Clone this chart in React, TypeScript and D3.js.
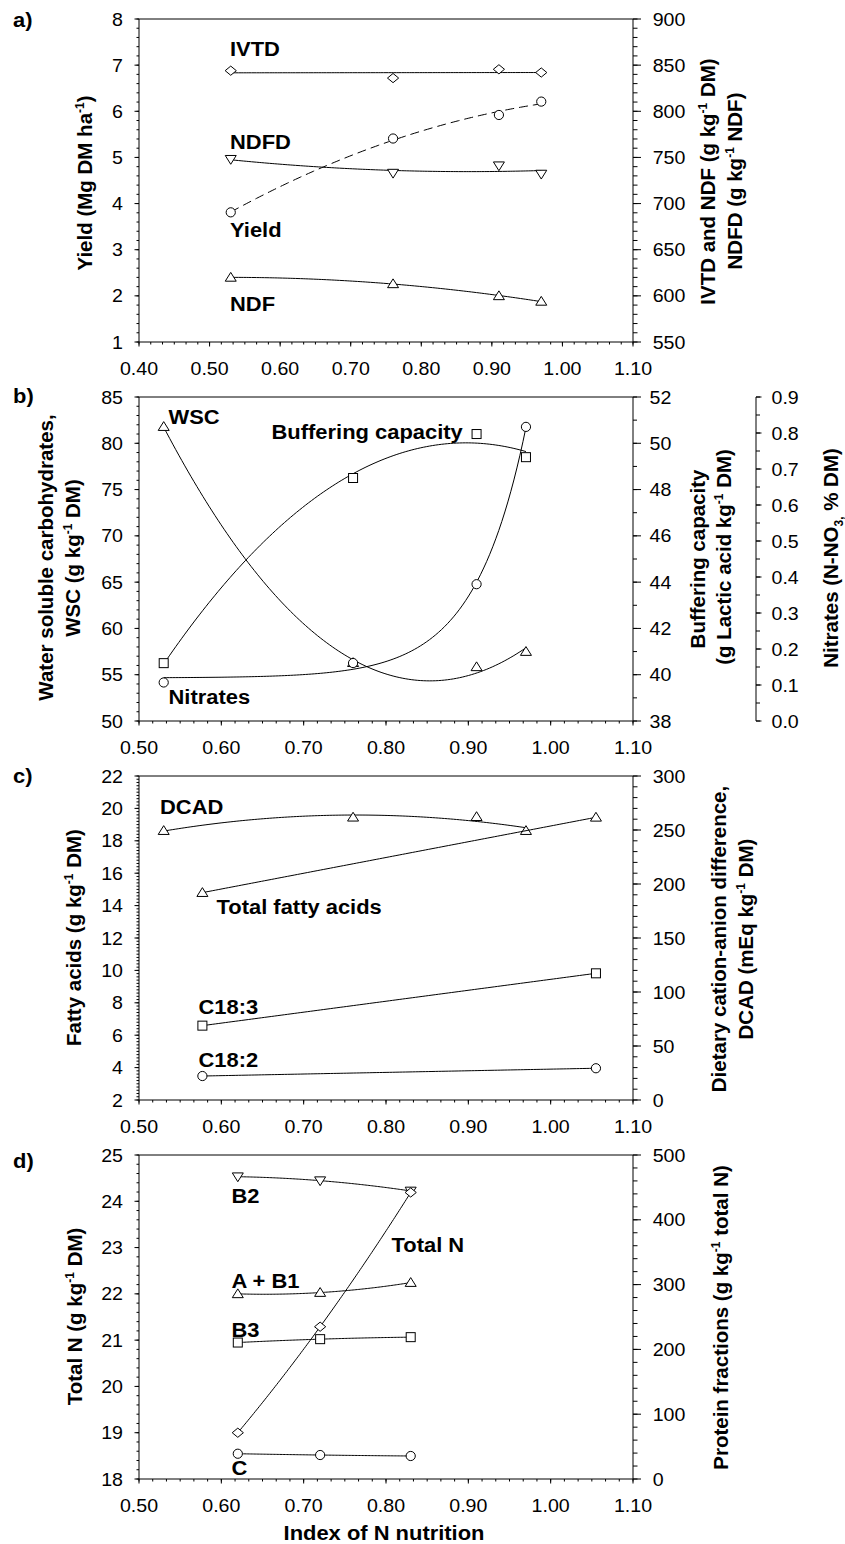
import React from 'react';
import * as d3 from 'd3';

// ---------- Panel a ----------
const xA = [0.53, 0.76, 0.91, 0.97];
const ivtd = [844, 836, 845.5, 842];
const ndfd = [748, 733, 741, 732];
const yieldA = [3.81, 5.41, 5.92, 6.21];
const ndf = [620, 613, 600, 594];

// ---------- Panel b ----------
const xB = [0.53, 0.76, 0.91, 0.97];
const wsc = [81.8, 56.3, 55.85, 57.5];
const bufCap = [40.5, 48.5, 50.4, 49.4];
const nitrates = [0.107, 0.161, 0.38, 0.817];

// ---------- Panel c ----------
const xDcad = [0.53, 0.76, 0.91, 0.97];
const dcad = [249.4, 261.8, 262.3, 249.4];
const xFA = [0.577, 1.055];
const totalFA = [14.8, 19.45];
const c183 = [6.59, 9.82];
const c182 = [3.48, 3.96];

// ---------- Panel d ----------
const xD = [0.62, 0.72, 0.83];
const b2 = [466.5, 460.4, 444.5];
const totalN = [19.0, 21.29, 24.19];
const ab1 = [285.7, 287.7, 303.1];
const b3 = [210.6, 215.8, 218.9];
const cFrac = [39, 37, 35.5];

// ---------- tick labels ----------
const xTicksA = [0.4, 0.5, 0.6, 0.7, 0.8, 0.9, 1.0, 1.1];
const xTicksBCD = [0.5, 0.6, 0.7, 0.8, 0.9, 1.0, 1.1];
const yTicksAL = [1, 2, 3, 4, 5, 6, 7, 8];
const yTicksAR = [550, 600, 650, 700, 750, 800, 850, 900];
const yTicksBL = [50, 55, 60, 65, 70, 75, 80, 85];
const yTicksBR = [38, 40, 42, 44, 46, 48, 50, 52];
const yTicksBN = [0, 0.1, 0.2, 0.3, 0.4, 0.5, 0.6, 0.7, 0.8, 0.9];
const yTicksCL = [2, 4, 6, 8, 10, 12, 14, 16, 18, 20, 22];
const yTicksCR = [0, 50, 100, 150, 200, 250, 300];
const yTicksDL = [18, 19, 20, 21, 22, 23, 24, 25];
const yTicksDR = [0, 100, 200, 300, 400, 500];

const FONT = 'Arial, "Liberation Sans", Helvetica, sans-serif';
const L = 139, R = 633;
const TICK_FS = 18.5, TICK_SX = 1.06;
const LAB_FS = 20.5, LAB_SX = 1.07;

function polyfit(xs: number[], ys: number[], deg: number) {
  const n = deg + 1;
  const A = Array.from({ length: n }, () => Array(n + 1).fill(0));
  for (let i = 0; i < xs.length; i++) {
    for (let r = 0; r < n; r++) {
      for (let c = 0; c < n; c++) A[r][c] += Math.pow(xs[i], r + c);
      A[r][n] += ys[i] * Math.pow(xs[i], r);
    }
  }
  for (let i = 0; i < n; i++) {
    let p = i;
    for (let k = i + 1; k < n; k++) if (Math.abs(A[k][i]) > Math.abs(A[p][i])) p = k;
    const tmp = A[i]; A[i] = A[p]; A[p] = tmp;
    for (let k = i + 1; k < n; k++) {
      const f = A[k][i] / A[i][i];
      for (let j = i; j <= n; j++) A[k][j] -= f * A[i][j];
    }
  }
  const coef = Array(n).fill(0);
  for (let i = n - 1; i >= 0; i--) {
    let s = A[i][n];
    for (let j = i + 1; j < n; j++) s -= A[i][j] * coef[j];
    coef[i] = s / A[i][i];
  }
  return (x: number) => coef.reduce((s, c, i) => s + c * Math.pow(x, i), 0);
}

function expfit(xs: number[], ys: number[]) {
  let best: any = null;
  for (let c = 1; c <= 40; c += 0.05) {
    const e = xs.map((x) => Math.exp(c * x));
    const me = d3.mean(e)!, my = d3.mean(ys)!;
    let sxy = 0, sxx = 0;
    for (let i = 0; i < xs.length; i++) {
      sxy += (e[i] - me) * (ys[i] - my);
      sxx += (e[i] - me) ** 2;
    }
    const b = sxy / sxx, a = my - b * me;
    let sse = 0;
    for (let i = 0; i < xs.length; i++) sse += (a + b * e[i] - ys[i]) ** 2;
    if (!best || sse < best.sse) best = { a, b, c, sse };
  }
  return (x: number) => best.a + best.b * Math.exp(best.c * x);
}

function Txt({ x, y, children, size = TICK_FS, bold = false, anchor = 'start', sx = TICK_SX }: any) {
  return (
    <text
      transform={`translate(${x},${y}) scale(${sx},1)`}
      fontSize={size}
      fontWeight={bold ? 'bold' : 'normal'}
      textAnchor={anchor}
      fontFamily={FONT}
      fill="#000"
    >
      {children}
    </text>
  );
}

function RotTxt({ x, y, children }: any) {
  return (
    <text
      transform={`translate(${x},${y}) rotate(-90)`}
      fontSize={LAB_FS}
      fontWeight="bold"
      textAnchor="middle"
      fontFamily={FONT}
      fill="#000"
    >
      {children}
    </text>
  );
}

const Sup = ({ t }: any) => (
  <tspan dy={-8} fontSize={12}>{t}</tspan>
);

function minorTicks(domain: [number, number], step: number) {
  const n = Math.round((domain[1] - domain[0]) / step);
  return d3.range(n + 1).map((i) => domain[0] + i * step);
}

function VAxis({ scale, x, major, minorStep, dir, majLen, minLen, labelX, anchor, fmt }: any) {
  const dom = scale.domain() as [number, number];
  const mins = minorTicks(dom, minorStep);
  return (
    <g>
      <line x1={x} x2={x} y1={scale(dom[0])} y2={scale(dom[1])} stroke="#000" strokeWidth={1} />
      {mins.map((v: number, i: number) => (
        <line key={'m' + i} x1={x} x2={x + dir * minLen} y1={scale(v)} y2={scale(v)} stroke="#000" strokeWidth={1} />
      ))}
      {major.map((v: number, i: number) => (
        <line key={'M' + i} x1={x} x2={x + dir * majLen} y1={scale(v)} y2={scale(v)} stroke="#000" strokeWidth={1} />
      ))}
      {major.map((v: number, i: number) => (
        <Txt key={'t' + i} x={labelX} y={scale(v) + 6.6} anchor={anchor}>{fmt(v)}</Txt>
      ))}
    </g>
  );
}

function XAxis({ scale, y, major }: any) {
  const dom = scale.domain() as [number, number];
  const mins = minorTicks(dom, 0.1 / 6);
  return (
    <g>
      <line x1={scale(dom[0])} x2={scale(dom[1])} y1={y} y2={y} stroke="#000" strokeWidth={1} />
      {mins.map((v: number, i: number) => (
        <line key={'m' + i} x1={scale(v)} x2={scale(v)} y1={y} y2={y + 2.5} stroke="#000" strokeWidth={1} />
      ))}
      {major.map((v: number, i: number) => (
        <line key={'M' + i} x1={scale(v)} x2={scale(v)} y1={y} y2={y + 4.5} stroke="#000" strokeWidth={1} />
      ))}
      {major.map((v: number, i: number) => (
        <Txt key={'t' + i} x={scale(v)} y={y + 33} anchor="middle">{v.toFixed(2)}</Txt>
      ))}
    </g>
  );
}

function Marker({ type, x, y }: any) {
  const common = { fill: '#fff', stroke: '#000', strokeWidth: 1 };
  if (type === 'circle') return <circle cx={x} cy={y} r={4.6} {...common} />;
  if (type === 'square') return <rect x={x - 4.5} y={y - 4.5} width={9} height={9} {...common} />;
  let d = '';
  if (type === 'up') d = 'M0,-5 L5.5,3.8 L-5.5,3.8 Z';
  if (type === 'down') d = 'M0,5 L5.5,-3.8 L-5.5,-3.8 Z';
  if (type === 'diamond') d = 'M0,-4.6 L5.6,0 L0,4.6 L-5.6,0 Z';
  return <path d={d} transform={`translate(${x},${y})`} {...common} />;
}

function Series({ xs, ys, xScale, yScale, fit, marker, dash }: any) {
  const x0 = d3.min(xs) as number, x1 = d3.max(xs) as number;
  const pts = d3.range(121).map((i) => x0 + ((x1 - x0) * i) / 120);
  const line = d3.line<number>().x((v) => xScale(v)).y((v) => yScale(fit(v)));
  return (
    <g>
      <path d={line(pts) || ''} fill="none" stroke="#000" strokeWidth={1} strokeDasharray={dash || undefined} />
      {xs.map((v: number, i: number) => (
        <Marker key={i} type={marker} x={xScale(v)} y={yScale(ys[i])} />
      ))}
    </g>
  );
}

function Frame({ top, bottom }: any) {
  return <line x1={L} x2={R} y1={top} y2={top} stroke="#000" strokeWidth={1} />;
}

export default function App() {
  // Panel a scales
  const aTop = 19, aBot = 342;
  const xa = d3.scaleLinear().domain([0.4, 1.1]).range([L, R]);
  const yaL = d3.scaleLinear().domain([1, 8]).range([aBot, aTop]);
  const yaR = d3.scaleLinear().domain([550, 900]).range([aBot, aTop]);

  // Panel b
  const bTop = 397, bBot = 721;
  const xb = d3.scaleLinear().domain([0.5, 1.1]).range([L, R]);
  const ybL = d3.scaleLinear().domain([50, 85]).range([bBot, bTop]);
  const ybR = d3.scaleLinear().domain([38, 52]).range([bBot, bTop]);
  const ybN = d3.scaleLinear().domain([0, 0.9]).range([bBot, bTop]);

  // Panel c
  const cTop = 776, cBot = 1100;
  const xc = d3.scaleLinear().domain([0.5, 1.1]).range([L, R]);
  const ycL = d3.scaleLinear().domain([2, 22]).range([cBot, cTop]);
  const ycR = d3.scaleLinear().domain([0, 300]).range([cBot, cTop]);

  // Panel d
  const dTop = 1155, dBot = 1479;
  const xd = d3.scaleLinear().domain([0.5, 1.1]).range([L, R]);
  const ydL = d3.scaleLinear().domain([18, 25]).range([dBot, dTop]);
  const ydR = d3.scaleLinear().domain([0, 500]).range([dBot, dTop]);

  const intF = (v: number) => String(v);
  const f1 = (v: number) => v.toFixed(1);

  return (
    <svg width={845} height={1544} style={{ position: 'absolute', left: 0, top: 0, background: '#fff' }}>
      <rect x={0} y={0} width={845} height={1544} fill="#fff" />

      {/* ================= Panel a ================= */}
      <Txt x={13} y={27} bold size={LAB_FS} sx={LAB_SX}>a)</Txt>
      <Frame top={aTop} bottom={aBot} />
      <XAxis scale={xa} y={aBot} major={xTicksA} />
      <VAxis scale={yaL} x={L} major={yTicksAL} minorStep={0.2} dir={-1} majLen={4.5} minLen={2.5} labelX={123} anchor="end" fmt={intF} />
      <VAxis scale={yaR} x={R} major={yTicksAR} minorStep={10} dir={1} majLen={8} minLen={4.5} labelX={652.7} anchor="start" fmt={intF} />
      <Series xs={xA} ys={ivtd} xScale={xa} yScale={yaR} fit={polyfit(xA, ivtd, 1)} marker="diamond" />
      <Series xs={xA} ys={ndfd} xScale={xa} yScale={yaR} fit={polyfit(xA, ndfd, 2)} marker="down" />
      <Series xs={xA} ys={yieldA} xScale={xa} yScale={yaL} fit={polyfit(xA, yieldA, 2)} marker="circle" dash="9,5" />
      <Series xs={xA} ys={ndf} xScale={xa} yScale={yaR} fit={polyfit(xA, ndf, 2)} marker="up" />
      <Txt x={230} y={56} bold size={LAB_FS} sx={LAB_SX}>IVTD</Txt>
      <Txt x={230} y={148.5} bold size={LAB_FS} sx={LAB_SX}>NDFD</Txt>
      <Txt x={230} y={237} bold size={LAB_FS} sx={LAB_SX}>Yield</Txt>
      <Txt x={230} y={310.5} bold size={LAB_FS} sx={LAB_SX}>NDF</Txt>
      <RotTxt x={91.5} y={183}>Yield (Mg DM ha<Sup t="-1" /><tspan dy={8}>)</tspan></RotTxt>
      <RotTxt x={715} y={181.5}>IVTD and NDF (g kg<Sup t="-1" /><tspan dy={8}> DM)</tspan></RotTxt>
      <RotTxt x={742} y={181}>NDFD (g kg<Sup t="-1" /><tspan dy={8}> NDF)</tspan></RotTxt>

      {/* ================= Panel b ================= */}
      <Txt x={13} y={403} bold size={LAB_FS} sx={LAB_SX}>b)</Txt>
      <Frame top={bTop} bottom={bBot} />
      <XAxis scale={xb} y={bBot} major={xTicksBCD} />
      <VAxis scale={ybL} x={L} major={yTicksBL} minorStep={1} dir={-1} majLen={4.5} minLen={2.5} labelX={123} anchor="end" fmt={intF} />
      <VAxis scale={ybR} x={R} major={yTicksBR} minorStep={1} dir={1} majLen={8} minLen={4} labelX={649.5} anchor="start" fmt={intF} />
      <VAxis scale={ybN} x={756} major={yTicksBN} minorStep={0.05} dir={1} majLen={5.5} minLen={4} labelX={771.5} anchor="start" fmt={f1} />
      <Series xs={xB} ys={wsc} xScale={xb} yScale={ybL} fit={polyfit(xB, wsc, 2)} marker="up" />
      <Series xs={xB} ys={bufCap} xScale={xb} yScale={ybR} fit={polyfit(xB, bufCap, 2)} marker="square" />
      <Series xs={xB} ys={nitrates} xScale={xb} yScale={ybN} fit={expfit(xB, nitrates)} marker="circle" />
      <Txt x={168.5} y={424} bold size={LAB_FS} sx={LAB_SX}>WSC</Txt>
      <Txt x={271.5} y={439} bold size={LAB_FS} sx={LAB_SX}>Buffering capacity</Txt>
      <Txt x={168.5} y={704} bold size={LAB_FS} sx={LAB_SX}>Nitrates</Txt>
      <RotTxt x={53} y={557.5}>Water soluble carbohydrates,</RotTxt>
      <RotTxt x={80} y={558}>WSC (g kg<Sup t="-1" /><tspan dy={8}> DM)</tspan></RotTxt>
      <RotTxt x={705} y={559}>Buffering capacity</RotTxt>
      <RotTxt x={731} y={557}>(g Lactic acid kg<Sup t="-1" /><tspan dy={8}> DM)</tspan></RotTxt>
      <RotTxt x={838} y={558}>Nitrates (N-NO<tspan dy={5} fontSize={12}>3,</tspan><tspan dy={-5}> % DM)</tspan></RotTxt>

      {/* ================= Panel c ================= */}
      <Txt x={13} y={783} bold size={LAB_FS} sx={LAB_SX}>c)</Txt>
      <Frame top={cTop} bottom={cBot} />
      <XAxis scale={xc} y={cBot} major={xTicksBCD} />
      <VAxis scale={ycL} x={L} major={yTicksCL} minorStep={0.2} dir={-1} majLen={4.5} minLen={2.5} labelX={123} anchor="end" fmt={intF} />
      <VAxis scale={ycR} x={R} major={yTicksCR} minorStep={10} dir={1} majLen={8} minLen={4.5} labelX={652.7} anchor="start" fmt={intF} />
      <Series xs={xDcad} ys={dcad} xScale={xc} yScale={ycR} fit={polyfit(xDcad, dcad, 2)} marker="up" />
      <Series xs={xFA} ys={totalFA} xScale={xc} yScale={ycL} fit={polyfit(xFA, totalFA, 1)} marker="up" />
      <Series xs={xFA} ys={c183} xScale={xc} yScale={ycL} fit={polyfit(xFA, c183, 1)} marker="square" />
      <Series xs={xFA} ys={c182} xScale={xc} yScale={ycL} fit={polyfit(xFA, c182, 1)} marker="circle" />
      <Txt x={160} y={814} bold size={LAB_FS} sx={LAB_SX}>DCAD</Txt>
      <Txt x={216.5} y={914} bold size={LAB_FS} sx={LAB_SX}>Total fatty acids</Txt>
      <Txt x={198.5} y={1014} bold size={LAB_FS} sx={LAB_SX}>C18:3</Txt>
      <Txt x={198.5} y={1067} bold size={LAB_FS} sx={LAB_SX}>C18:2</Txt>
      <RotTxt x={81} y={937.5}>Fatty acids (g kg<Sup t="-1" /><tspan dy={8}> DM)</tspan></RotTxt>
      <RotTxt x={726} y={939}>Dietary cation-anion difference,</RotTxt>
      <RotTxt x={753} y={939}>DCAD (mEq kg<Sup t="-1" /><tspan dy={8}> DM)</tspan></RotTxt>

      {/* ================= Panel d ================= */}
      <Txt x={13} y={1168} bold size={LAB_FS} sx={LAB_SX}>d)</Txt>
      <Frame top={dTop} bottom={dBot} />
      <XAxis scale={xd} y={dBot} major={xTicksBCD} />
      <VAxis scale={ydL} x={L} major={yTicksDL} minorStep={0.2} dir={-1} majLen={4.5} minLen={2.5} labelX={123} anchor="end" fmt={intF} />
      <VAxis scale={ydR} x={R} major={yTicksDR} minorStep={20} dir={1} majLen={8} minLen={4.5} labelX={652.7} anchor="start" fmt={intF} />
      <Series xs={xD} ys={b2} xScale={xd} yScale={ydR} fit={polyfit(xD, b2, 2)} marker="down" />
      <Series xs={xD} ys={ab1} xScale={xd} yScale={ydR} fit={polyfit(xD, ab1, 2)} marker="up" />
      <Series xs={xD} ys={b3} xScale={xd} yScale={ydR} fit={polyfit(xD, b3, 2)} marker="square" />
      <Series xs={xD} ys={cFrac} xScale={xd} yScale={ydR} fit={polyfit(xD, cFrac, 2)} marker="circle" />
      <Series xs={xD} ys={totalN} xScale={xd} yScale={ydL} fit={polyfit(xD, totalN, 2)} marker="diamond" />
      <Txt x={231.5} y={1202.5} bold size={LAB_FS} sx={LAB_SX}>B2</Txt>
      <Txt x={391.5} y={1251.5} bold size={LAB_FS} sx={LAB_SX}>Total N</Txt>
      <Txt x={231.5} y={1288} bold size={LAB_FS} sx={LAB_SX}>A + B1</Txt>
      <Txt x={231.5} y={1337} bold size={LAB_FS} sx={LAB_SX}>B3</Txt>
      <Txt x={231.5} y={1475} bold size={LAB_FS} sx={LAB_SX}>C</Txt>
      <RotTxt x={81.5} y={1316.5}>Total N (g kg<Sup t="-1" /><tspan dy={8}> DM)</tspan></RotTxt>
      <RotTxt x={728} y={1317.5}>Protein fractions (g kg<Sup t="-1" /><tspan dy={8}> total N)</tspan></RotTxt>
      <Txt x={384} y={1540} bold size={LAB_FS} sx={LAB_SX} anchor="middle">Index of N nutrition</Txt>
    </svg>
  );
}
